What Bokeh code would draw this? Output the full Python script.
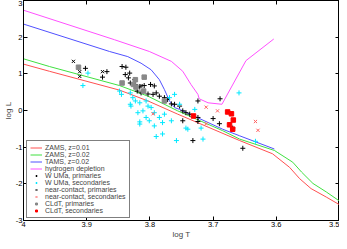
from bokeh.plotting import figure
from bokeh.models import Range1d, LinearAxis, FixedTicker, Legend, LegendItem
from bokeh.embed import file_html
from bokeh.resources import INLINE

# ---- model curves (log T, log L) ----
zams01_T = [4.0, 3.959, 3.848, 3.803, 3.756, 3.658, 3.606, 3.579, 3.563, 3.545, 3.521, 3.500]
zams01_L = [1.265, 1.07, 0.555, 0.26, -0.10, -0.82, -1.18, -1.55, -1.86, -2.13, -2.36, -2.57]

zams02_T = [4.0, 3.959, 3.848, 3.803, 3.756, 3.685, 3.658, 3.603, 3.574, 3.560, 3.542, 3.521, 3.500]
zams02_L = [1.41, 1.20, 0.68, 0.39, -0.01, -0.55, -0.78, -1.09, -1.41, -1.68, -1.99, -2.22, -2.47]

tams02_T = [4.0, 3.864, 3.835, 3.814, 3.798, 3.785, 3.777, 3.769, 3.761, 3.753, 3.685, 3.658, 3.603]
tams02_L = [2.357, 1.61, 1.47, 1.29, 1.11, 0.84, 0.57, 0.26, 0.08, 0.03, -0.51, -0.69, -1.05]

hdep_T = [4.0, 3.856, 3.801, 3.766, 3.748, 3.735, 3.724, 3.722, 3.708, 3.686, 3.648, 3.604]
hdep_L = [2.735, 1.93, 1.61, 1.34, 1.07, 0.71, 0.44, 0.32, 0.21, 0.17, 1.36, 1.95]

# ---- observed stars ----
wuma_p_T = [3.902, 3.868, 3.875, 3.844, 3.838, 3.839, 3.832, 3.834, 3.831, 3.824, 3.823, 3.816,
            3.809, 3.799, 3.793, 3.820, 3.814, 3.803, 3.795, 3.790, 3.785, 3.777, 3.772, 3.766,
            3.761, 3.753, 3.748, 3.724, 3.689, 3.748, 3.743, 3.737, 3.724, 3.700, 3.724, 3.690,
            3.669, 3.653, 3.732]
wuma_p_L = [1.15, 1.06, 0.91, 1.20, 1.18, 0.98, 1.02, 0.89, 0.75, 0.84, 0.71, 0.64,
            0.68, 0.71, 0.67, 0.53, 0.48, 0.45, 0.44, 0.48, 0.39, 0.35, 0.30, 0.18,
            0.17, 0.12, -0.28, 0.26, 0.32, -0.01, -0.06, -0.10, -0.19, -0.22, -0.30, -0.36,
            -0.48, -1.03, -0.82]

wuma_s_T = [3.898, 3.906, 3.831, 3.827, 3.823, 3.816, 3.831, 3.806, 3.803, 3.798, 3.811, 3.819,
            3.793, 3.816, 3.806, 3.801, 3.793, 3.785, 3.777, 3.766, 3.769, 3.761, 3.845, 3.780,
            3.780, 3.790, 3.758, 3.740, 3.716, 3.816, 3.848, 3.830, 3.659, 3.633, 3.753, 3.729,
            3.719, 3.743]
wuma_s_L = [1.02, 0.68, 0.48, 0.35, 0.26, 0.21, 0.17, 0.26, 0.12, 0.08, -0.01, -0.06,
            -0.06, -0.31, -0.19, -0.28, -0.42, -0.19, -0.10, -0.28, 0.35, 0.44, 0.44, -0.33,
            -0.64, -0.71, -0.82, -0.51, -0.78, -0.37, 0.53, 0.12, 0.48, -0.84, 0.17, 0.03,
            -0.48, -0.48]

nc_p_T = [3.921, 3.911, 3.911, 3.875, 3.814]
nc_p_L = [1.34, 1.06, 0.93, 1.06, 0.68]

nc_s_T = [3.711, 3.693, 3.711, 3.633, 3.629, 3.795]
nc_s_L = [0.09, -0.01, -0.36, -0.30, -0.54, -0.09]

cl_p_T = [3.913, 3.844, 3.823, 3.809, 3.826, 3.822, 3.810, 3.777]
cl_p_L = [1.18, 0.75, 0.84, 0.91, 0.71, 0.64, 0.53, 0.26]

cl_s_T = [3.677, 3.671, 3.668, 3.674, 3.669, 3.731]
cl_s_L = [-0.04, -0.09, -0.26, -0.39, -0.51, -0.15]

# ---- ticks ----
x_ticks = [4.0, 3.9, 3.8, 3.7, 3.6, 3.5]
x_tick_labels = ["4", "3.9", "3.8", "3.7", "3.6", "3.5"]
y_ticks = [-3, -2, -1, 0, 1, 2, 3]
y_tick_labels = ["-3", "-2", "-1", "0", "1", "2", "3"]

FONT = "Liberation Sans"

p = figure(width=339, height=241, output_backend="svg", toolbar_location=None,
           x_range=Range1d(4.0, 3.5), y_range=Range1d(-3, 3),
           min_border_left=0, min_border_right=0, min_border_top=0, min_border_bottom=0)
p.grid.visible = False
p.outline_line_color = "black"
p.outline_line_width = 1
p.background_fill_color = "white"
p.border_fill_color = "white"

def style_axis(ax, labels_on=True):
    ax.minor_tick_line_color = None
    ax.major_tick_in = 4
    ax.major_tick_out = 0
    ax.axis_line_color = "black"
    ax.major_tick_line_color = "black"
    ax.major_label_text_font = FONT
    ax.major_label_text_font_size = "7.5px"
    ax.major_label_text_color = "black" if labels_on else None
    ax.major_label_standoff = 1
    ax.axis_label_text_font = FONT
    ax.axis_label_text_font_size = "8px"
    ax.axis_label_text_font_style = "normal"
    ax.axis_label_standoff = 0

p.xaxis.ticker = FixedTicker(ticks=x_ticks)
p.xaxis.major_label_overrides = dict(zip(x_ticks, x_tick_labels))
p.yaxis.ticker = FixedTicker(ticks=y_ticks)
p.yaxis.major_label_overrides = {float(t): l for t, l in zip(y_ticks, y_tick_labels)}
p.xaxis.axis_label = "log T"
p.yaxis.axis_label = "log L"
style_axis(p.xaxis[0])
style_axis(p.yaxis[0])

top = LinearAxis(ticker=FixedTicker(ticks=x_ticks),
                 major_label_overrides={t: "" for t in x_ticks})
right = LinearAxis(ticker=FixedTicker(ticks=y_ticks),
                   major_label_overrides={float(t): "" for t in y_ticks})
style_axis(top, False)
style_axis(right, False)
for ax in (top, right):
    ax.major_label_text_font_size = "0px"
    ax.major_label_standoff = 0
    ax.axis_label_standoff = 0
p.add_layout(top, "above")
p.add_layout(right, "right")

r1 = p.line(zams01_T, zams01_L, line_color="#ff5050", line_width=1)
r2 = p.line(zams02_T, zams02_L, line_color="#40e040", line_width=1)
r3 = p.line(tams02_T, tams02_L, line_color="#5050ff", line_width=1)
r4 = p.line(hdep_T, hdep_L, line_color="#ff50ff", line_width=1)
r5 = p.scatter(wuma_p_T, wuma_p_L, marker="cross", size=5, line_color="black", line_width=1)
r6 = p.scatter(wuma_s_T, wuma_s_L, marker="cross", size=5, line_color="#00e8ff", line_width=1)
r7 = p.scatter(nc_p_T, nc_p_L, marker="x", size=4.5, line_color="black", line_width=1)
r8 = p.scatter(nc_s_T, nc_s_L, marker="x", size=4.5, line_color="#ff6060", line_width=1)
r9 = p.scatter(cl_p_T, cl_p_L, marker="square", size=4.5, fill_color="#888888", line_color="#888888")
r10 = p.scatter(cl_s_T, cl_s_L, marker="square", size=4.5, fill_color="#ff0000", line_color="#ff0000")

labels = ["ZAMS, z=0.01", "ZAMS, z=0.02", "TAMS, z=0.02", "hydrogen depletion",
          "W UMa, primaries", "W UMa, secondaries", "near-contact, primaries",
          "near-contact, secondaries", "CLdT, primaries", "CLdT, secondaries"]
rends = [r1, r2, r3, r4, r5, r6, r7, r8, r9, r10]
legend = Legend(items=[LegendItem(label=l, renderers=[r]) for l, r in zip(labels, rends)],
                location=(3, 2), orientation="vertical")
legend.label_text_font = FONT
legend.label_text_font_size = "7px"
legend.label_height = 5
legend.glyph_height = 5
legend.glyph_width = 12
legend.label_standoff = 3
legend.spacing = -3
legend.padding = 3
legend.margin = 0
legend.border_line_color = "black"
legend.border_line_width = 1
legend.background_fill_alpha = 1
p.add_layout(legend, "center")

open("out.html", "w").write(file_html(p, INLINE))
